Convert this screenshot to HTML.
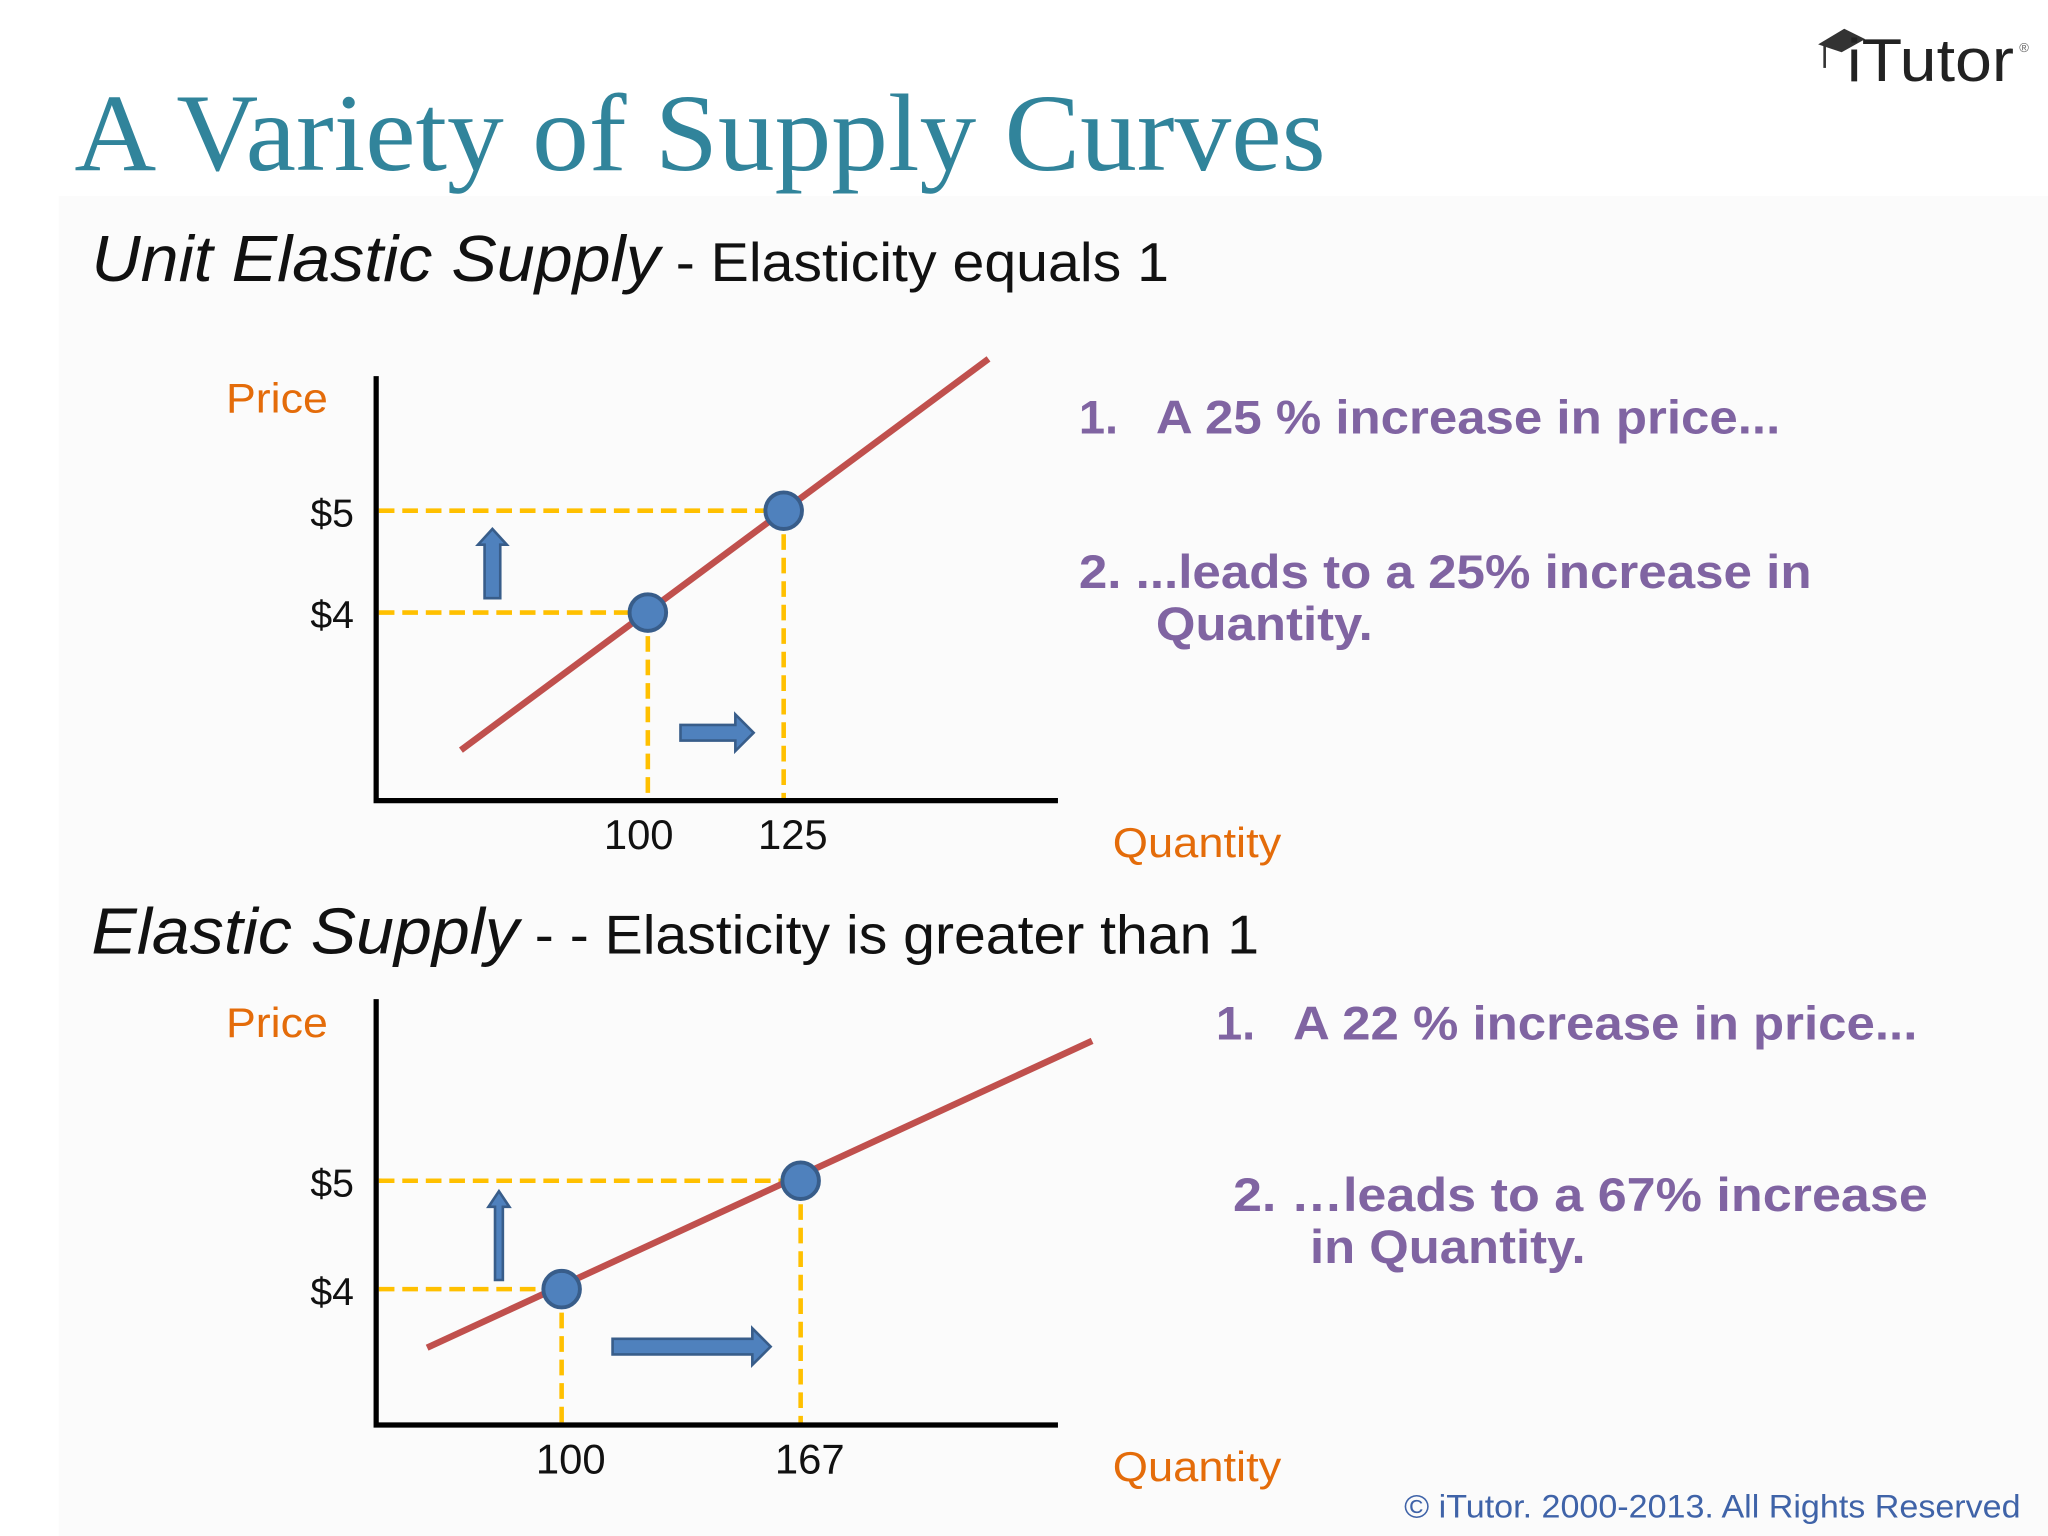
<!DOCTYPE html>
<html><head><meta charset="utf-8"><style>
html,body{margin:0;padding:0;background:#fff;}
svg{display:block;}
text{font-family:"Liberation Sans",sans-serif;}
</style></head><body>
<svg id="s" width="2048" height="1536" viewBox="0 0 1568 1176" xmlns="http://www.w3.org/2000/svg">
<rect x="0" y="0" width="1568" height="1176" fill="#ffffff"/>
<rect x="45" y="150" width="1523" height="1026" fill="#fbfbfb"/>
<text x="57" y="130" style="font-family:'Liberation Serif',serif" font-size="84" fill="#31849b" textLength="958" lengthAdjust="spacingAndGlyphs">A Variety of Supply Curves</text>
<g>
<path d="M1392 34 L1412 22 L1428 30 L1410 40 Z" fill="#333"/>
<line x1="1397" y1="35" x2="1397" y2="52" stroke="#333" stroke-width="2"/>
<text x="1414" y="62" font-size="46" fill="#222" textLength="128" lengthAdjust="spacingAndGlyphs">iTutor</text>
<text x="1546" y="40" font-size="10" fill="#666">®</text>
</g>
<text x="70" y="215" textLength="825" lengthAdjust="spacingAndGlyphs"><tspan font-style="italic" font-size="50" fill="#111">Unit Elastic Supply</tspan><tspan font-size="42" fill="#111"> - Elasticity equals 1</tspan></text>
<text x="70" y="730" textLength="894" lengthAdjust="spacingAndGlyphs"><tspan font-style="italic" font-size="50" fill="#111">Elastic Supply</tspan><tspan font-size="42" fill="#111"> - - Elasticity is greater than 1</tspan></text>
<g id="c1"></g>
<g id="c2"></g>
<g font-weight="bold" font-size="36" fill="#8064a2">
<text x="826" y="332">1.</text>
<text x="885" y="332" textLength="478" lengthAdjust="spacingAndGlyphs">A 25 % increase in price...</text>
<text x="826" y="450" textLength="561" lengthAdjust="spacingAndGlyphs">2. ...leads to a 25% increase in</text>
<text x="885" y="490" textLength="166" lengthAdjust="spacingAndGlyphs">Quantity.</text>
<text x="931" y="796">1.</text>
<text x="990" y="796" textLength="478" lengthAdjust="spacingAndGlyphs">A 22 % increase in price...</text>
<text x="944" y="927" textLength="532" lengthAdjust="spacingAndGlyphs">2. …leads to a  67% increase</text>
<text x="1003" y="967" textLength="211" lengthAdjust="spacingAndGlyphs">in Quantity.</text>
</g>
<text x="1075" y="1162" font-size="25" fill="#3f63a8" textLength="472" lengthAdjust="spacingAndGlyphs">© iTutor. 2000-2013. All Rights Reserved</text>
</svg>
<script>
// Chart 1: unit elastic
const prices1 = [4, 5];
const quantities1 = [100, 125];
const priceLabels1 = ["$4", "$5"];
const qtyLabels1 = ["100", "125"];
const lineQ1 = [65.6, 162.7];
const lineP1 = [2.65, 6.49];
// Chart 2: elastic
const prices2 = [4, 5];
const quantities2 = [100, 167];
const priceLabels2 = ["$4", "$5"];
const qtyLabels2 = ["100", "167"];
const lineQ2 = [62.3, 248.7];
const lineP2 = [3.46, 6.29];

const NS = "http://www.w3.org/2000/svg";
function mk(parent, tag, attrs, txt) {
  const e = document.createElementNS(NS, tag);
  for (const k in attrs) e.setAttribute(k, attrs[k]);
  if (txt !== undefined) e.textContent = txt;
  parent.appendChild(e);
  return e;
}
function draw(gid, cfg, prices, qtys, pl, ql, lq, lp) {
  const g = document.getElementById(gid);
  const xs = q => cfg.x0 + (q - qtys[0]) * cfg.xk;
  const ys = p => cfg.y0 - (p - prices[0]) * cfg.yk;
  let e;
  e = mk(g, "text", {x: 173, y: cfg.priceY, "font-size": 32, fill: "#e46c0a", textLength: 78, lengthAdjust: "spacingAndGlyphs"}, "Price");
  
  
  e = mk(g, "text", {x: 852, y: cfg.qtyY, "font-size": 32, fill: "#e46c0a", textLength: 129, lengthAdjust: "spacingAndGlyphs"}, "Quantity");
  
  
  for (let i = 0; i < prices.length; i++) {
    const px = xs(qtys[i]), py = ys(prices[i]);
    e = mk(g, "line", {x1: 290, y1: py, x2: px, y2: py, stroke: "#ffc000", "stroke-width": 3.5, "stroke-dasharray": "12,6"});
    
    
    e = mk(g, "line", {x1: px, y1: py, x2: px, y2: cfg.axisY, stroke: "#ffc000", "stroke-width": 3.5, "stroke-dasharray": "12,6"});
    
    
    e = mk(g, "text", {x: 271, y: py + 12, "font-size": 30, fill: "#111", "text-anchor": "end"}, pl[i]);
    
    
    e = mk(g, "text", {x: px + cfg.tickDx[i], y: cfg.axisY + 37, "font-size": 32, fill: "#111", "text-anchor": "middle"}, ql[i]);
    
    
  }
  e = mk(g, "polyline", {points: `288,${cfg.axisTop} 288,${cfg.axisY} 810,${cfg.axisY}`, fill: "none", stroke: "#000", "stroke-width": 4});
  
  
  e = mk(g, "line", {x1: xs(lq[0]), y1: ys(lp[0]), x2: xs(lq[1]), y2: ys(lp[1]), stroke: "#c0504d", "stroke-width": 5});
  
  
  for (let i = 0; i < prices.length; i++) {
    e = mk(g, "circle", {cx: xs(qtys[i]), cy: ys(prices[i]), r: 14, fill: "#4f81bd", stroke: "#385d8a", "stroke-width": 3});
    
    
  }
  const ua = cfg.up;
  e = mk(g, "path", {d: `M${ua.x - ua.w},${ua.y1} L${ua.x - ua.w},${ua.y2 + 12} L${ua.x - ua.w - 5},${ua.y2 + 12} L${ua.x},${ua.y2} L${ua.x + ua.w + 5},${ua.y2 + 12} L${ua.x + ua.w},${ua.y2 + 12} L${ua.x + ua.w},${ua.y1} Z`, fill: "#4f81bd", stroke: "#385d8a", "stroke-width": 2});
  
  
  const ra = cfg.right;
  e = mk(g, "path", {d: `M${ra.x1},${ra.y - 6} L${ra.x2 - 14},${ra.y - 6} L${ra.x2 - 14},${ra.y - 14} L${ra.x2},${ra.y} L${ra.x2 - 14},${ra.y + 14} L${ra.x2 - 14},${ra.y + 6} L${ra.x1},${ra.y + 6} Z`, fill: "#4f81bd", stroke: "#385d8a", "stroke-width": 2});
  
  
}
draw("c1", {x0: 496, xk: 104 / 25, y0: 469, yk: 78, axisY: 613, axisTop: 288, priceY: 316, qtyY: 656, tickDx: [-7, 7],
  up: {x: 377, w: 6, y1: 458, y2: 405}, right: {x1: 521, x2: 577, y: 561}},
  prices1, quantities1, priceLabels1, qtyLabels1, lineQ1, lineP1);
draw("c2", {x0: 430, xk: 183 / 67, y0: 987, yk: 83, axisY: 1091, axisTop: 765, priceY: 794, qtyY: 1134, tickDx: [7, 7],
  up: {x: 382, w: 3, y1: 980, y2: 912}, right: {x1: 469, x2: 590, y: 1031}},
  prices2, quantities2, priceLabels2, qtyLabels2, lineQ2, lineP2);
</script>
</body></html>
